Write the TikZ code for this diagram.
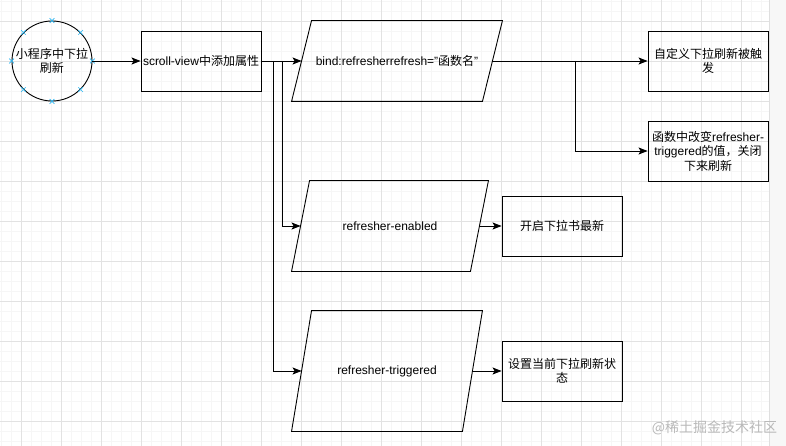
\documentclass[tikz,border=0pt]{standalone}
\usepackage{fontspec}
\setmainfont{Liberation Sans}
\newfontfamily\cjk{Noto Sans CJK SC}
\usetikzlibrary{arrows.meta,shapes.misc}
\definecolor{gridline}{RGB}{226,226,226}
\definecolor{gridfine}{RGB}{246,246,246}
\definecolor{handle}{RGB}{41,182,242}

\begin{document}
\begin{tikzpicture}[x=1pt, y=-1pt, line width=0.9pt,
    >={Stealth[length=9pt,width=7pt,inset=2pt]},
    every node/.style={font=\fontsize{12}{14.5}\selectfont, align=center},
    box/.style={draw, rectangle, minimum width=120pt, minimum height=60pt, inner sep=2pt},
    io/.style={rectangle, inner sep=2pt},
    xmark/.style={draw=handle, cross out, line width=0.7pt, minimum size=4pt, inner sep=0pt}]
    % canvas and grid
    \useasboundingbox (0,0) rectangle (786,446);
    \fill[white] (0,0) rectangle (786,446);
    \foreach \x in {1,11,...,761} \draw[gridfine, line width=0.5pt] (\x,0) -- (\x,446);
    \foreach \y in {1,11,...,441} \draw[gridfine, line width=0.5pt] (0,\y) -- (769,\y);
    \foreach \x in {21,61,...,741} \draw[gridline, line width=0.6pt] (\x,0) -- (\x,446);
    \foreach \y in {21,61,...,421} \draw[gridline, line width=0.6pt] (0,\y) -- (769,\y);
    \fill[gray!6] (769,0) rectangle (786,446);
    \draw[gray!25, line width=0.6pt] (769,0) -- (769,446);

    % nodes
    \node[draw, circle, minimum size=80pt, inner sep=0pt] (start) at (52,61) {\cjk 小程序中下拉\\\cjk 刷新};
    \foreach \a in {0,45,...,315} \node[xmark] (h\a) at (start.\a) {};
    \node[box] (scroll) at (201,61) {scroll-view{\cjk 中添加属性}};
    \node[io, minimum width=190pt, minimum height=80pt] (bind) at (397,61) {bind:refresherrefresh="{\cjk 函数名}"};
    \node[io, minimum width=178pt, minimum height=90pt] (enabled) at (390,226) {refresher-enabled};
    \node[io, minimum width=170pt, minimum height=120pt] (triggered) at (387,371) {refresher-triggered};
    \node[box] (fired) at (708,61) {\cjk 自定义下拉刷新被触\\\cjk 发};
    \node[box] (change) at (708,151) {{\cjk 函数中改变}refresher-\\triggered{\cjk 的值，关闭}\\\cjk 下来刷新};
    \node[box] (open) at (562,226) {\cjk 开启下拉书最新};
    \node[box] (state) at (562,371) {\cjk 设置当前下拉刷新状\\\cjk 态};
    \node[text=gray!55, font=\cjk\fontsize{14}{16}\selectfont, anchor=east] (mark) at (781,428) {@稀土掘金技术社区};

    % parallelogram outlines
    \foreach \n/\s in {bind/10, enabled/9, triggered/10}
        \draw ([xshift=\s pt]\n.north west) -- ([xshift=\s pt]\n.north east)
            -- ([xshift=-\s pt]\n.south east) -- ([xshift=-\s pt]\n.south west) -- cycle;

    % connectors
    \coordinate (split1) at ([xshift=12pt]scroll.east);
    \coordinate (split2) at ([xshift=21pt]scroll.east);
    \coordinate (split3) at ([xshift=83pt]bind.east);
    \draw[->] (start) -- (scroll);
    \draw[->] (scroll) -- (bind);
    \draw[->] (split1) |- (triggered.west);
    \draw[->] (split2) |- (enabled.west);
    \draw[->] (bind) -- (fired);
    \draw[->] (split3) |- (change.west);
    \draw[->] (enabled) -- (open);
    \draw[->] (triggered) -- (state);
\end{tikzpicture}
\end{document}
